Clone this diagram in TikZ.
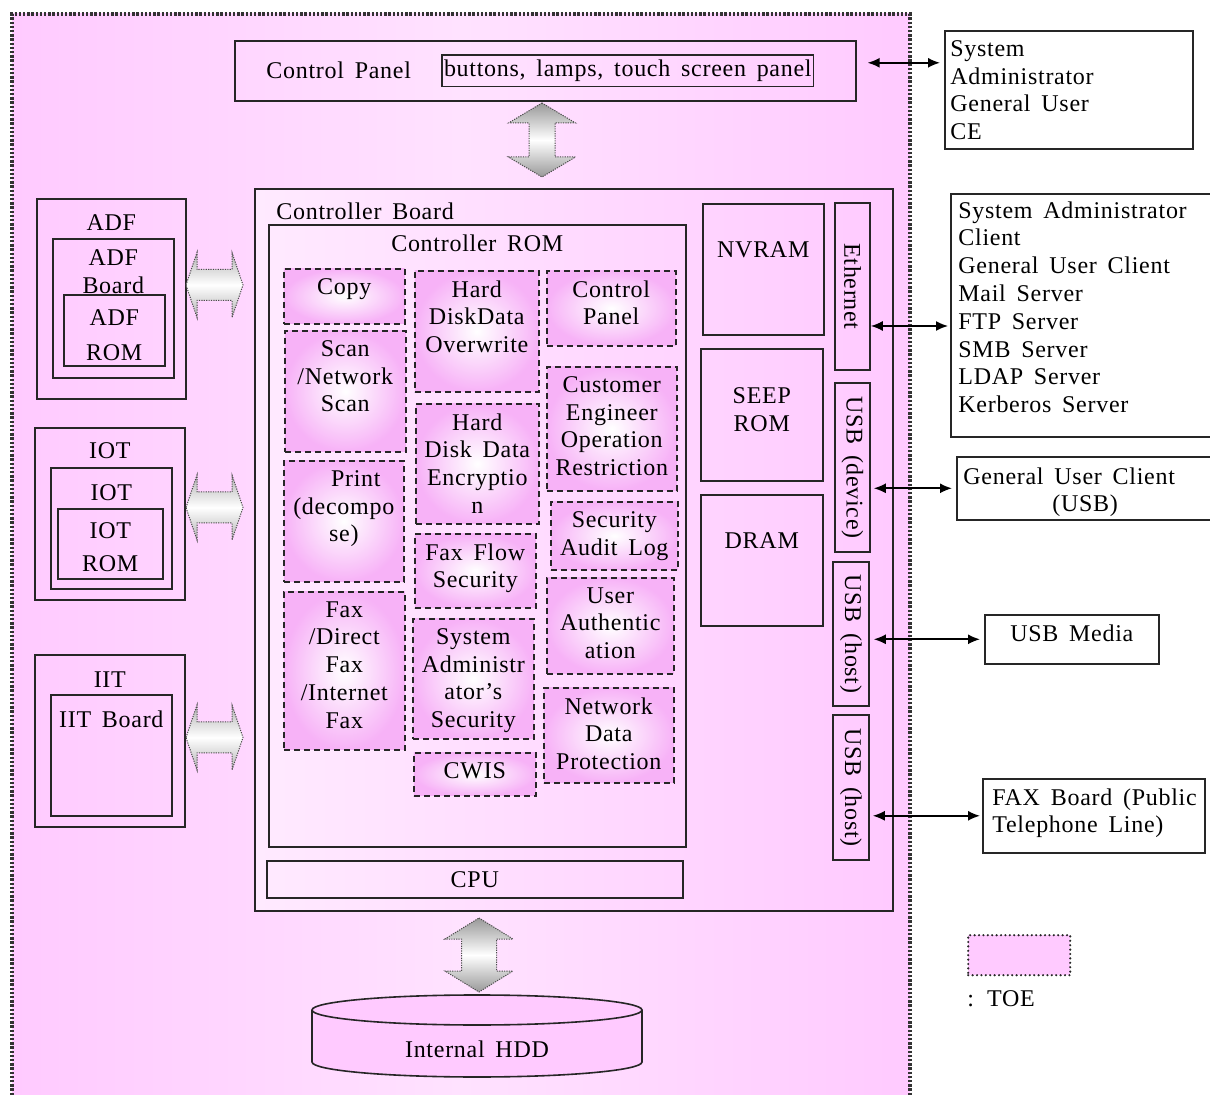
\documentclass[tikz,border=0pt]{standalone}
\usepackage{fontspec}
\setmainfont{Liberation Serif}[LetterSpace=3,WordSpace=1.6]
\usetikzlibrary{positioning,calc,arrows.meta}

\definecolor{toepink}{RGB}{255,202,255}
\definecolor{toemid}{RGB}{255,226,255}
\definecolor{cblight}{RGB}{255,234,255}
\definecolor{fnpink}{RGB}{247,178,247}

\tikzset{
  blk/.style={draw=black!85, line width=0.8pt, anchor=north west, inner sep=0pt},
  wh/.style 2 args={minimum width=#1*0.5pt, minimum height=#2*0.5pt},
  fn/.style={blk, dash pattern=on 3pt off 2pt, inner color=white, outer color=fnpink},
  ext/.style={blk, fill=white},
  port/.style={draw=black!85, line width=0.8pt, inner sep=0pt, rotate=-90},
  lbl/.style={inner sep=0pt, align=center},
  toeedge/.style={draw=black!80, line width=1.6pt, dash pattern=on 1.2pt off 0.9pt},
  fat/.style={draw=black!70, line width=0.5pt, dash pattern=on 0.6pt off 0.6pt},
  fatv/.style={fat, top color=black!40, bottom color=black!40, middle color=white},
  fath/.style={fat, top color=black!30, bottom color=black!30, middle color=white},
  biarrow/.style={{Latex[length=6pt,width=5pt]}-{Latex[length=6pt,width=5pt]}, line width=0.8pt}
}

\begin{document}
\begin{tikzpicture}[x=0.5pt, y=-0.5pt, font=\fontsize{12}{13.9}\selectfont]
\useasboundingbox (0,0) rectangle (1210,1095);

% TOE area
\shade[left color=toepink, right color=toepink, middle color=toemid] (12,14) rectangle (910,1095);
\draw[toeedge] (12,1095) -- (12,14) -- (910,14) -- (910,1095);

% control panel
\node[blk, wh={621}{60}] (cp) at (234,40) {};
\node[lbl, right=16pt of cp.west] (cpt) {Control Panel};
\node[draw=black!85, line width=0.6pt, inner xsep=1pt, inner ysep=2.5pt, right=15pt of cpt] (btn) {buttons, lamps, touch screen panel};

% controller board
\node[blk, wh={638}{722}, left color=cblight, right color=toepink] (cb) at (254,188) {};
\node[lbl, below right=7pt and 11pt of cb.north west] (cbt) {Controller Board};
\node[blk, wh={417}{622}] (rom) at (268,224) {};
\node[lbl, below=5pt of rom.north] (romt) {Controller ROM};

% functions in the ROM
\node[fn, wh={121}{55}] (copy) at (283,268) {};
\node[lbl, below=5pt of copy.north] (copyt) {Copy};
\node[fn, wh={121}{121}] (scan) at (284,330) {};
\node[lbl, below=5pt of scan.north] (scant) {Scan\\/Network\\Scan};
\node[fn, wh={120}{121}] (prt) at (283,460) {};
\node[lbl, below=5pt of prt.north] (prtt) {\hspace*{12pt}Print\\(decompo\\se)};
\node[fn, wh={121}{158}] (fax) at (283,591) {};
\node[lbl, below=5pt of fax.north] (faxt) {Fax\\/Direct\\Fax\\/Internet\\Fax};

\node[fn, wh={124}{121}] (ovw) at (414,270) {};
\node[lbl, below=5pt of ovw.north] (ovwt) {Hard\\DiskData\\Overwrite};
\node[fn, wh={123}{120}] (enc) at (415,403) {};
\node[lbl, below=5pt of enc.north] (enct) {Hard\\Disk Data\\Encryptio\\n};
\node[fn, wh={121}{74}] (ffs) at (414,533) {};
\node[lbl, below=5pt of ffs.north] (ffst) {Fax Flow\\Security};
\node[fn, wh={121}{120}] (sas) at (412,618) {};
\node[lbl, below=5pt of sas.north] (sast) {System\\Administr\\ator's\\Security};
\node[fn, wh={122}{43}] (cwis) at (413,752) {};
\node[lbl, below=5pt of cwis.north] (cwist) {CWIS};

\node[fn, wh={129}{75}] (cpnl) at (546,270) {};
\node[lbl, below=5pt of cpnl.north] (cpnlt) {Control\\Panel};
\node[fn, wh={130}{124}] (ceor) at (546,366) {};
\node[lbl, below=5pt of ceor.north] (ceort) {Customer\\Engineer\\Operation\\Restriction};
\node[fn, wh={127}{68}] (sal) at (550,501) {};
\node[lbl, below=5pt of sal.north] (salt) {Security\\Audit Log};
\node[fn, wh={127}{96}] (ua) at (546,577) {};
\node[lbl, below=5pt of ua.north] (uat) {User\\Authentic\\ation};
\node[fn, wh={130}{95}] (ndp) at (543,687) {};
\node[lbl, below=5pt of ndp.north] (ndpt) {Network\\Data\\Protection};

\node[blk, wh={416}{37}] (cpu) at (266,860) {CPU};

% memories
\node[blk, wh={121}{131}] (nvram) at (702,203) {};
\node[lbl, below=19pt of nvram.north] (nvramt) {NVRAM};
\node[blk, wh={122}{132}] (seep) at (700,348) {};
\node[lbl, below=19.5pt of seep.north] (seept) {SEEP\\ROM};
\node[blk, wh={122}{131}] (dram) at (700,494) {};
\node[lbl, below=19pt of dram.north] (dramt) {DRAM};

% ports
\node[port, wh={167}{35}] (eth) at (852.5,286.5) {Ethernet};
\node[port, wh={169}{35}] (usbd) at (852.5,467.5) {USB (device)};
\node[port, wh={144}{36}] (usbh) at (851,634) {USB (host)};
\node[port, wh={145}{36}] (usbf) at (851,787.5) {USB (host)};

% ADF, IOT, IIT
\node[blk, wh={149}{200}] (adf) at (36,198) {};
\node[lbl, below=8pt of adf.north] (adft) {ADF};
\node[blk, wh={121}{139}] (adfb) at (52,238) {};
\node[lbl, below=5.5pt of adfb.north] (adfbt) {ADF\\Board};
\node[blk, wh={101}{71}] (adfr) at (63,294) {};
\node[lbl, below=7.5pt of adfr.north] (adfrt) {ADF\\[3.6pt]ROM};

\node[blk, wh={150}{172}] (iot) at (34,427) {};
\node[lbl, below=7.5pt of iot.north] (iott) {IOT};
\node[blk, wh={121}{121}] (iotb) at (50,467) {};
\node[lbl, below=8.5pt of iotb.north] (iotbt) {IOT};
\node[blk, wh={105}{70}] (iotr) at (57,508) {};
\node[lbl, below=7pt of iotr.north] (iotrt) {IOT\\[2.6pt]ROM};

\node[blk, wh={150}{172}] (iit) at (34,654) {};
\node[lbl, below=8.5pt of iit.north] (iitt) {IIT};
\node[blk, wh={121}{121}] (iitb) at (50,694) {};
\node[lbl, below=8pt of iitb.north] (iitbt) {IIT Board};

% internal HDD
\filldraw[fill=toepink, draw=black!85, line width=0.8pt] (312,1010) -- (312,1062)
  arc[start angle=180, end angle=0, x radius=165, y radius=15] -- (642,1010)
  arc[start angle=0, end angle=-180, x radius=165, y radius=15] -- cycle;
\draw[black!85, line width=0.8pt] (312,1010) arc[start angle=180, end angle=0, x radius=165, y radius=15];
\node (hdd) at (477,1049) {Internal HDD};

% fat arrows
\coordinate (cpar) at (542,140);
\coordinate (hddar) at (479,955);
\coordinate (adfar) at (214.5,285);
\coordinate (iotar) at (214.5,507.5);
\coordinate (iitar) at (214.5,737.5);
\shadedraw[fatv, shift={(cpar)}] (0,-37) -- (33.5,-17) -- (13,-17) -- (13,17) -- (33.5,17) -- (0,37)
  -- (-33.5,17) -- (-13,17) -- (-13,-17) -- (-33.5,-17) -- cycle;
\shadedraw[fatv, shift={(hddar)}] (0,-37) -- (34,-16) -- (17.5,-16) -- (17.5,16) -- (34,16) -- (0,37)
  -- (-34,16) -- (-17.5,16) -- (-17.5,-16) -- (-34,-16) -- cycle;
\foreach \a in {adfar,iotar,iitar}
  \shadedraw[fath, shift={(\a)}] (-28.5,0) -- (-17.5,-32.5) -- (-17.5,-15.5) -- (17.5,-15.5) -- (17.5,-32.5)
    -- (28.5,0) -- (17.5,32.5) -- (17.5,15.5) -- (-17.5,15.5) -- (-17.5,32.5) -- cycle;

% outside
\node[ext, wh={248}{118}] (sys) at (944,30) {};
\node[lbl, align=left, below right=5pt and 3pt of sys.north west] (syst) {System\\Administrator\\General User\\CE};
\node[ext, wh={262}{243}] (net) at (950,193) {};
\node[lbl, align=left, below right=4pt and 4pt of net.north west] (nett) {System Administrator\\Client\\General User Client\\Mail Server\\FTP Server\\SMB Server\\LDAP Server\\Kerberos Server};
\node[ext, wh={256}{63}] (usbc) at (956,456) {};
\node[lbl, below right=5.5pt and 3.5pt of usbc.north west] (usbct) {General User Client\\\hspace*{16pt}(USB)};
\node[ext, wh={174}{49}] (media) at (984,614) {};
\node[lbl, below=5pt of media.north] (mediat) {USB Media};
\node[ext, wh={222}{74}] (faxb) at (982,778) {};
\node[lbl, align=left, below right=5pt and 5pt of faxb.north west] (faxbt) {FAX Board (Public\\Telephone Line)};

\draw[biarrow] ($(cp.east)+(11,-8)$) -- ($(cp.east -| sys.west)+(-4,-8)$);
\draw[biarrow] ($(eth.north)+(0,39.5)$) -- ($(eth.north -| net.west)+(-2,39.5)$);
\draw[biarrow] ($(usbd.north |- usbc.west)+(3,0)$) -- ($(usbc.west)+(-4,0)$);
\draw[biarrow] ($(usbh.north |- media.west)+(4,0)$) -- ($(media.west)+(-4,0)$);
\draw[biarrow] ($(usbf.north |- faxb.west)+(3,0)$) -- ($(faxb.west)+(-2,0)$);

% legend
\node[blk, wh={102}{40}, fill=toepink, line width=1.2pt, dash pattern=on 0pt off 2.2pt, line cap=round] (leg) at (967,934) {};
\node[lbl, below right=7pt and 0pt of leg.south west] (legt) {: TOE};
\end{tikzpicture}
\end{document}
